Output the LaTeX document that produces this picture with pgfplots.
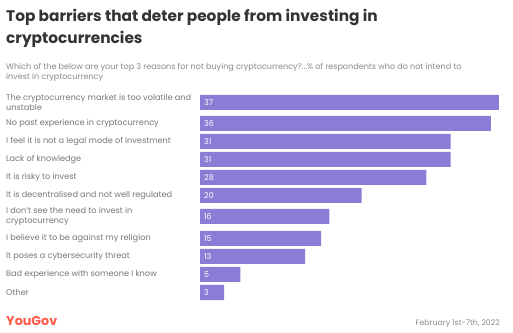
\documentclass[border=0pt]{standalone}
\usepackage{pgfplots}
\pgfplotsset{compat=1.18}
\usepackage{fontspec}
\setmainfont{Poppins}
\definecolor{barc}{HTML}{8A7DD5}
\definecolor{lab}{HTML}{777777}
\definecolor{titc}{HTML}{333333}
\definecolor{subc}{HTML}{8A8A8A}
\definecolor{ygred}{HTML}{FF5A4A}
\begin{document}
\begin{tikzpicture}
\path[use as bounding box, fill=white] (0bp,0bp) rectangle (513bp,333bp);
\node[anchor=base west, inner sep=0, text=titc, font=\fontsize{15.4}{17}\selectfont\bfseries] at (6bp,311bp) {Top barriers that deter people from investing in};
\node[anchor=base west, inner sep=0, text=titc, font=\fontsize{15.4}{17}\selectfont\bfseries] at (6bp,289bp) {cryptocurrencies};
\node[anchor=base west, inner sep=0, text=subc, font=\fontsize{8.1}{9}\selectfont] at (6bp,263.5bp) {Which of the below are your top 3 reasons for not buying cryptocurrency?...\% of respondents who do not intend to};
\node[anchor=base west, inner sep=0, text=subc, font=\fontsize{8.1}{9}\selectfont] at (6bp,253.5bp) {invest in cryptocurrency};
\node[anchor=base west, inner sep=0, text=ygred, font=\fontsize{12.8}{14}\selectfont\bfseries] at (6bp,8bp) {YouGov};
\node[anchor=base east, inner sep=0, text=subc, font=\fontsize{7.8}{9}\selectfont] at (500bp,8bp) {February 1st-7th, 2022};
\begin{axis}[
  at={(200bp,33bp)}, anchor=origin,
  scale only axis, width=299bp, height=205bp,
  xmin=0, xmax=37, ymin=0, ymax=205,
  clip=false,
  axis line style={draw=none},
  major tick length=0pt,
  xtick=\empty,
  ytick={7.5,25.5,43.5,61.5,83.5,104.5,122.5,140.5,158.5,176.5,197.5},
  yticklabels={
    {Other},
    {Bad experience with someone I know},
    {It poses a cybersecurity threat},
    {I believe it to be against my religion},
    {I don't see the need to invest in\\cryptocurrency},
    {It is decentralised and not well regulated},
    {It is risky to invest},
    {Lack of knowledge},
    {I feel it is not a legal mode of investment},
    {No past experience in cryptocurrency},
    {The cryptocurrency market is too volatile and\\unstable}},
  yticklabel style={anchor=west, inner sep=0pt, xshift=-194bp, align=left, text=lab, font=\fontsize{8.2}{10}\selectfont},
]
\addplot[xbar, fill=barc, draw=none, bar width=15] coordinates {
  (3,7.5) (5,25.5) (13,43.5) (15,61.5) (16,83.5) (20,104.5)
  (28,122.5) (31,140.5) (31,158.5) (36,176.5) (37,197.5)};
\addplot[only marks, mark=none, point meta=explicit symbolic, nodes near coords,
  nodes near coords style={anchor=west, inner sep=0pt, xshift=4bp, text=white, font=\fontsize{8}{9}\selectfont}]
  table[meta=v] {
x y v
0 7.5 3
0 25.5 5
0 43.5 13
0 61.5 15
0 83.5 16
0 104.5 20
0 122.5 28
0 140.5 31
0 158.5 31
0 176.5 36
0 197.5 37
};
\end{axis}
\end{tikzpicture}
\end{document}
